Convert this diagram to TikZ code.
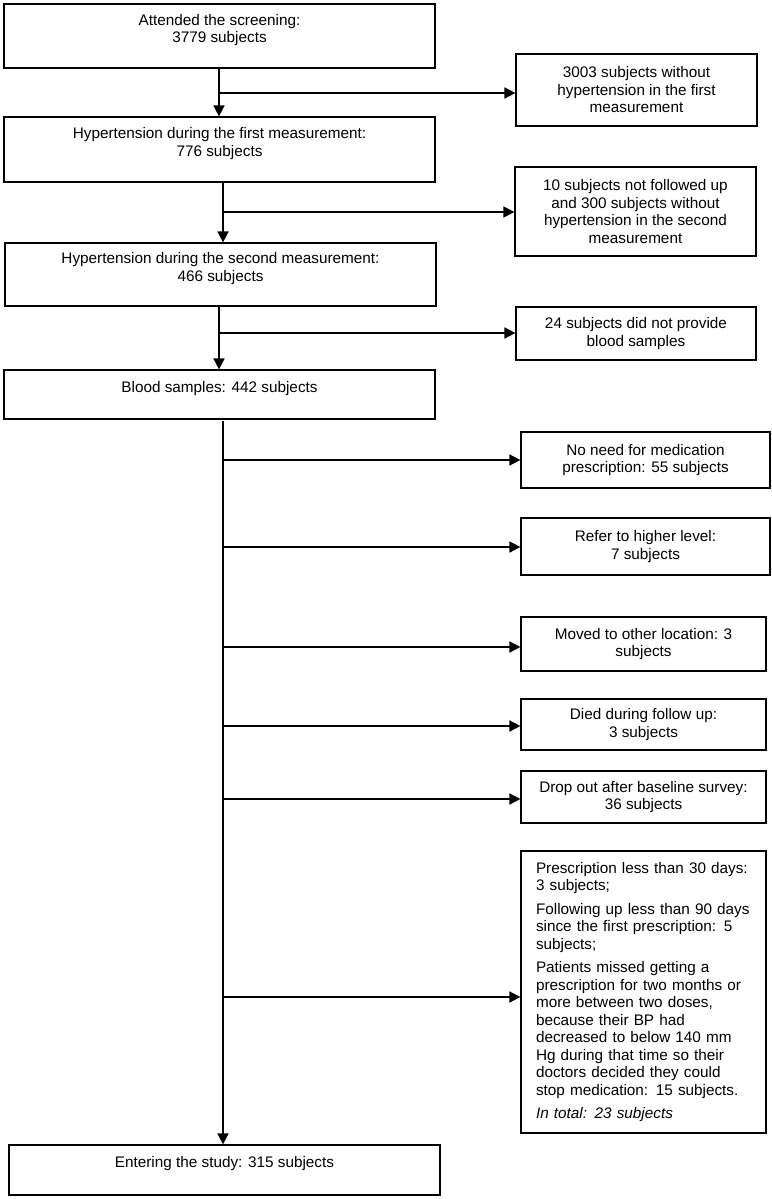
\documentclass[tikz,border=0pt]{standalone}
\usepackage{fontspec}
\setmainfont{Liberation Sans}
\usetikzlibrary{arrows.meta,calc}
\newcommand{\lowpad}{\\[-2pt]\mbox{}}

\begin{document}
\begin{tikzpicture}[
    x=1pt, y=-1pt,
    every node/.style={font=\fontsize{15.3}{17.5}\selectfont},
    mainbox/.style={rectangle, draw, line width=1.2pt, minimum width=431pt,
      align=center, inner sep=0pt},
    sidebox/.style={rectangle, draw, line width=1.2pt, align=center, inner sep=0pt},
    arrow/.style={-{Triangle[length=11pt,width=11pt]}, line width=1.6pt}
  ]
    \useasboundingbox (0,0) rectangle (771,1199);

    \node[mainbox, minimum height=64pt] (screen)   at (219.5,36)    {Attended the screening:\\3779 subjects\lowpad};
    \node[sidebox, minimum width=241pt, minimum height=72pt] (nohypfirst) at (636.5,90)
      {3003 subjects without\\hypertension in the first\\measurement};
    \node[mainbox, minimum height=65pt] (firstbp)  at (219.5,149.5) {Hypertension during the first measurement:\\776 subjects\lowpad};
    \node[sidebox, minimum width=241pt, minimum height=89pt] (nohypsecond) at (635.5,211.5)
      {10 subjects not followed up\\and 300 subjects without\\hypertension in the second\\measurement};
    \node[mainbox, minimum height=63pt] (secondbp) at (220.5,274.5) {Hypertension during the second measurement:\\466 subjects\lowpad};
    \node[sidebox, minimum width=240pt, minimum height=53pt] (noblood) at (636,333.5)
      {24 subjects did not provide\\blood samples};
    \node[mainbox, minimum height=49pt] (blood)    at (219.5,394.5) {Blood samples: 442 subjects\lowpad};
    \node[sidebox, minimum width=249pt, minimum height=56pt] (noneed)  at (645.5,460)   {No need for medication\\prescription: 55 subjects};
    \node[sidebox, minimum width=249pt, minimum height=57pt] (refer)   at (645.5,546.5) {Refer to higher level:\\7 subjects};
    \node[sidebox, minimum width=245pt, minimum height=54pt] (moved)   at (643.5,644)   {Moved to other location: 3\\subjects};
    \node[sidebox, minimum width=245pt, minimum height=51pt] (died)    at (643.5,724.5) {Died during follow up:\\3 subjects};
    \node[sidebox, minimum width=245pt, minimum height=52pt] (dropout) at (643.5,797)   {Drop out after baseline survey:\\36 subjects};
    \node[sidebox, minimum width=245pt, minimum height=282pt, align=left, text width=215pt] (excluded) at (643.5,992)
      {Prescription less than 30 days:\\3 subjects;\\[6pt]
       Following up less than 90 days\\since the first prescription: 5\\subjects;\\[6pt]
       Patients missed getting a\\prescription for two months or\\more between two doses,\\because their BP had\\decreased to below 140 mm\\Hg during that time so their\\doctors decided they could\\stop medication: 15 subjects.\\[6pt]
       \textit{In total: 23 subjects}};
    \node[mainbox, minimum height=50pt] (enter)    at (224.5,1170)  {Entering the study: 315 subjects\lowpad};

    % junctions on the vertical lines
    \coordinate (jfirst)  at (219,93);
    \coordinate (jsecond) at (223,212);
    \coordinate (jblood)  at (219,333);
    \coordinate (trunk)   at (223,421);
    \coordinate (jneed)   at (223,460);
    \coordinate (jrefer)  at (223,547);
    \coordinate (jmoved)  at (223,647);
    \coordinate (jdied)   at (223,726);
    \coordinate (jdrop)   at (223,799);
    \coordinate (jexcl)   at (223,997);

    \draw[arrow] (screen.south -| jfirst)    -- (firstbp.north -| jfirst);
    \draw[arrow] (jfirst)  -- (jfirst -| nohypfirst.west);
    \draw[arrow] (firstbp.south -| jsecond)  -- (secondbp.north -| jsecond);
    \draw[arrow] (jsecond) -- (jsecond -| nohypsecond.west);
    \draw[arrow] (secondbp.south -| jblood)  -- (blood.north -| jblood);
    \draw[arrow] (jblood)  -- (jblood -| noblood.west);

    \draw[arrow] (trunk)   -- (enter.north -| trunk);
    \draw[arrow] (jneed)   -- (jneed -| noneed.west);
    \draw[arrow] (jrefer)  -- (jrefer -| refer.west);
    \draw[arrow] (jmoved)  -- (jmoved -| moved.west);
    \draw[arrow] (jdied)   -- (jdied -| died.west);
    \draw[arrow] (jdrop)   -- (jdrop -| dropout.west);
    \draw[arrow] (jexcl)   -- (jexcl -| excluded.west);
  \end{tikzpicture}
\end{document}
